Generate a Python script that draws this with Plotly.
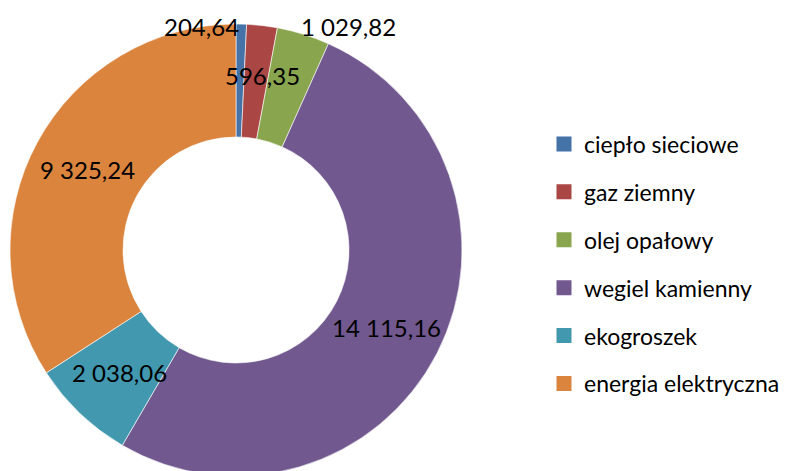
import math
import plotly.graph_objects as go

# data
labels = ["ciepło sieciowe", "gaz ziemny", "olej opałowy",
          "wegiel kamienny", "ekogroszek", "energia elektryczna"]
values = [204.64, 596.35, 1029.82, 14115.16, 2038.06, 9325.24]
colors = ["#4572A7", "#AA4643", "#89A54E", "#71588F", "#4198AF", "#DB843D"]

W, H = 796, 471
M_T, M_B = 16, 3
FONT = "Lato"
FS = 24
OFF = 8  # page body margin


def fmt(v):
    return f"{v:,.2f}".replace(",", " ").replace(".", ",")


fig = go.Figure()

# donut
pie_w = 456
fig.add_trace(go.Pie(
    labels=labels, values=values, hole=0.5, sort=False,
    direction="clockwise", rotation=0, textinfo="none",
    marker=dict(colors=colors, line=dict(color="white", width=0.6)),
    domain=dict(x=[0, pie_w / W], y=[0, 1]),
    showlegend=False,
))

# legend entries (separate groups so they can be spaced out)
for lab, col in zip(labels, colors):
    fig.add_trace(go.Scatter(
        x=[None], y=[None], mode="markers", name=lab, legendgroup=lab,
        marker=dict(symbol="square", size=15, color=col),
    ))

# data labels
ph = H - M_T - M_B
cx, cy = pie_w / 2, M_T + ph / 2
r_mid = (ph / 2) * 0.75
total = sum(values)
# small slices were moved by hand in the original, keep them where they sit
manual = {0: (201 - OFF, 26 - OFF), 1: (262 - OFF, 76 - OFF),
          2: (348 - OFF, 26 - OFF)}
cum = 0
for i, v in enumerate(values):
    mid = (cum + v / 2) / total * 2 * math.pi
    cum += v
    if i in manual:
        px, py = manual[i]
    else:
        px = cx + r_mid * math.sin(mid)
        py = cy - r_mid * math.cos(mid)
    fig.add_annotation(
        x=px / W, y=1 - (py - M_T) / ph, xref="paper", yref="paper",
        text=fmt(v), showarrow=False,
        font=dict(family=FONT, size=FS, color="black"),
        xanchor="center", yanchor="middle",
    )

fig.update_layout(
    width=W, height=H,
    margin=dict(l=0, r=0, t=M_T, b=M_B),
    paper_bgcolor="white", plot_bgcolor="white",
    font=dict(family=FONT, size=FS, color="black"),
    xaxis=dict(visible=False), yaxis=dict(visible=False),
    legend=dict(x=536 / W, xanchor="left", y=1 - (256 - M_T) / ph,
                yanchor="middle", tracegroupgap=15,
                font=dict(family=FONT, size=23, color="black"),
                bgcolor="rgba(0,0,0,0)"),
)

fig.write_html("out.html")
